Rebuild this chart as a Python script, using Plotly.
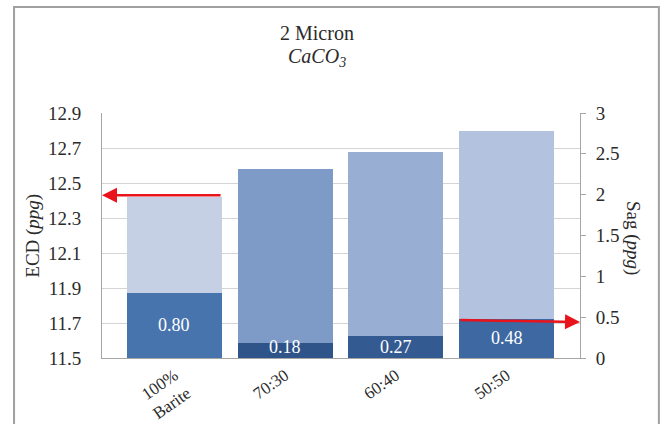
import plotly.graph_objects as go

# Mix ratios (barite : CaCO3) and measured results
categories = ["100%<br>Barite", "70:30", "60:40", "50:50"]
ecd_ppg = [12.42, 12.58, 12.68, 12.80]
sag_ppg = [0.80, 0.18, 0.27, 0.48]

ecd_colors = ["#c6d0e4", "#7e9bc8", "#98aed3", "#b2c2df"]
sag_colors = ["#4874ae", "#2e5489", "#335a91", "#3e68a1"]

ecd_ticks = [11.5, 11.7, 11.9, 12.1, 12.3, 12.5, 12.7, 12.9]
sag_ticks = [0, 0.5, 1, 1.5, 2, 2.5, 3]

FONT = "Liberation Serif"
TXT = "#2b2b2b"
BAR_W = 0.86
X_RANGE = [-0.655, 3.664]

fig = go.Figure()
fig.add_trace(go.Bar(
    x=list(range(len(categories))), y=[v - 11.5 for v in ecd_ppg], base=11.5,
    marker=dict(color=ecd_colors, line=dict(width=0)),
    width=BAR_W, yaxis="y", showlegend=False, hoverinfo="skip",
))
fig.add_trace(go.Bar(
    x=list(range(len(categories))), y=sag_ppg,
    marker=dict(color=sag_colors, line=dict(width=0)),
    width=BAR_W, yaxis="y2", showlegend=False, hoverinfo="skip",
))

# value labels on the sag bars
for i, v in enumerate(sag_ppg):
    fig.add_annotation(
        x=i, y=max(v / 2, 0.13), xref="x", yref="y2", text=f"{v:.2f}",
        showarrow=False, font=dict(family=FONT, size=18, color="white"),
    )

# red arrows pointing each reading to its axis
fig.add_annotation(
    x=X_RANGE[0], y=12.43, ax=BAR_W / 2, ay=12.43,
    xref="x", yref="y", axref="x", ayref="y", text="",
    showarrow=True, arrowhead=2, arrowsize=1.2, arrowwidth=2.5, arrowcolor="#e8131b",
)
fig.add_annotation(
    x=X_RANGE[1], y=0.44, ax=3 - BAR_W / 2, ay=0.465,
    xref="x", yref="y2", axref="x", ayref="y2", text="",
    showarrow=True, arrowhead=2, arrowsize=1.2, arrowwidth=2.5, arrowcolor="#e8131b",
)

# two-line title
fig.add_annotation(
    x=0.45, y=1.327, xref="paper", yref="paper", showarrow=False,
    xanchor="center", yanchor="middle",
    text="2 Micron", font=dict(family=FONT, size=20, color=TXT),
)
fig.add_annotation(
    x=0.45, y=1.225, xref="paper", yref="paper", showarrow=False,
    xanchor="center", yanchor="middle",
    text="<i>CaCO<sub>3</sub></i>", font=dict(family=FONT, size=20, color=TXT),
)

# axis titles
fig.add_annotation(
    x=-0.146, y=0.5, xref="paper", yref="paper", showarrow=False,
    xanchor="center", yanchor="middle",
    text="ECD (<i>ppg</i>)", textangle=-90,
    font=dict(family=FONT, size=19, color=TXT),
)
fig.add_annotation(
    x=1.111, y=0.49, xref="paper", yref="paper", showarrow=False,
    xanchor="center", yanchor="middle",
    text="Sag (<i>ppg</i>)", textangle=90,
    font=dict(family=FONT, size=19, color=TXT),
)

# outer chart frame
fig.add_shape(
    type="rect", xref="paper", yref="paper",
    x0=-0.184, x1=1.165, y0=-0.32, y1=1.433,
    line=dict(color="#a0a0a0", width=2), layer="below",
)

fig.update_layout(
    width=665, height=424,
    margin=dict(l=102, r=85, t=113, b=66, autoexpand=False),
    paper_bgcolor="white", plot_bgcolor="white",
    barmode="overlay", bargap=0,
    font=dict(family=FONT, size=18, color=TXT),
    xaxis=dict(
        range=X_RANGE, tickmode="array", tickvals=list(range(len(categories))),
        ticktext=categories, tickangle=-35, showgrid=False, automargin=False,
        showline=True, linecolor="#a6a6a6", linewidth=1, ticks="",
        tickfont=dict(family=FONT, size=17, color=TXT), zeroline=False,
    ),
    yaxis=dict(
        range=[11.5, 12.9], tickmode="array", tickvals=ecd_ticks,
        ticktext=[f"{t:.1f}" for t in ecd_ticks], automargin=False,
        showgrid=True, gridcolor="#d4d4d4", gridwidth=1,
        showline=True, linecolor="#a6a6a6", linewidth=1, ticks="",
        ticklabelstandoff=16, zeroline=False,
        tickfont=dict(family=FONT, size=19, color=TXT),
    ),
    yaxis2=dict(
        range=[0, 3], overlaying="y", side="right", tickmode="array",
        tickvals=sag_ticks, ticktext=[f"{t:g}" for t in sag_ticks],
        showgrid=False, showline=True, linecolor="#a6a6a6", linewidth=1,
        ticks="outside", ticklen=5, tickcolor="#a6a6a6", zeroline=False,
        ticklabelstandoff=6, automargin=False,
        tickfont=dict(family=FONT, size=19, color=TXT),
    ),
)

fig.write_html("out.html")
